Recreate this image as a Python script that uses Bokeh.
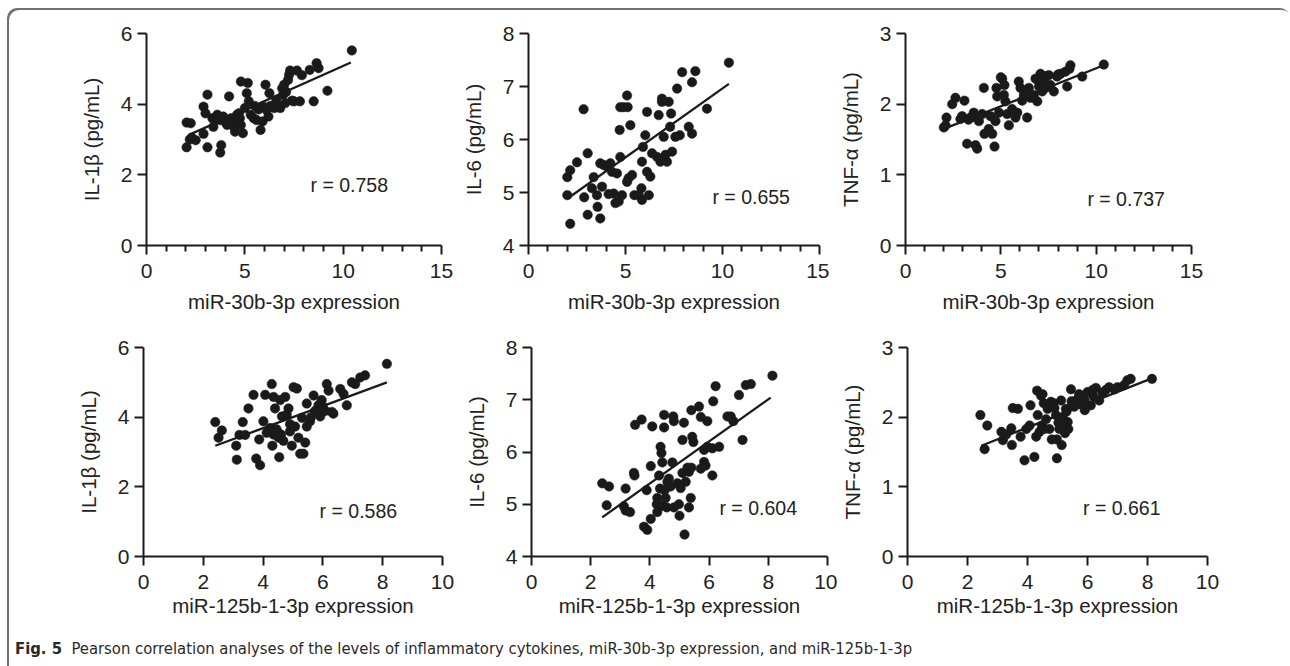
from bokeh.plotting import figure
from bokeh.models import Label, Div, FixedTicker, Range1d
from bokeh.layouts import row, column
from bokeh.embed import file_html
from bokeh.resources import INLINE

# ---------------- data ----------------
# Row 1: miR-30b-3p expression vs cytokines
mir30_il1b_x = [2.04, 2.04, 2.25, 2.2, 2.5, 2.9, 3.1, 2.9, 3.1, 3.0, 3.35, 3.4, 3.6, 3.75, 3.8,
                3.75, 4.1, 4.2, 4.3, 4.45, 4.5, 4.6, 4.7, 4.8, 4.8, 4.9, 5.0, 5.1, 5.15, 5.2,
                5.3, 5.45, 5.6, 5.8, 5.9, 5.95, 6.05, 6.1, 6.2, 6.25, 6.4, 6.5, 6.6, 6.8, 6.9,
                6.95, 7.05, 7.2, 7.25, 7.3, 7.5, 7.65, 7.8, 7.9, 8.3, 8.5, 8.65, 8.75, 9.2, 10.44,
                3.5, 3.9, 4.0, 4.4, 4.6, 4.75, 5.5, 5.7, 6.3, 6.7, 7.1, 7.4, 7.0, 2.3]
mir30_il1b_y = [2.78, 3.48, 3.46, 3.0, 2.98, 3.16, 2.78, 3.93, 4.27, 3.74, 3.6, 3.36, 3.7, 3.55, 2.84,
                2.63, 3.41, 4.22, 3.6, 3.36, 3.22, 3.55, 3.74, 3.41, 4.64, 3.18, 3.89, 4.31, 4.6, 4.08,
                3.7, 3.6, 3.55, 3.27, 3.51, 3.93, 4.55, 3.84, 3.65, 4.31, 3.93, 3.89, 4.12, 3.89, 4.45,
                4.27, 4.03, 4.69, 4.83, 4.95, 4.08, 4.95, 4.08, 4.82, 4.97, 4.08, 5.16, 5.02, 4.38, 5.52,
                3.55, 3.65, 3.5, 3.45, 3.7, 3.6, 3.95, 3.85, 3.95, 3.95, 4.35, 4.1, 4.55, 3.05]
mir30_il1b_fit_x = [2.16, 10.39]
mir30_il1b_fit_y = [3.13, 5.18]

mir30_il6_x = [2.15, 2.0, 2.0, 2.15, 2.5, 2.84, 2.87, 3.05, 3.05, 3.27, 3.36, 3.53, 3.56, 3.7, 3.7,
               3.79, 3.87, 4.04, 4.13, 4.22, 4.3, 4.39, 4.48, 4.56, 4.65, 4.7, 4.73, 4.73, 4.82, 4.9,
               5.08, 5.11, 5.08, 5.16, 5.25, 5.34, 5.46, 5.68, 5.82, 5.85, 5.9, 5.85, 6.02, 6.11, 6.11,
               6.2, 6.28, 6.37, 6.63, 6.71, 6.8, 6.88, 6.88, 6.97, 7.06, 7.14, 7.23, 7.3, 7.35, 7.4,
               7.57, 7.66, 7.8, 7.92, 8.26, 8.43, 8.43, 8.6, 9.2, 10.33]
mir30_il6_y = [4.41, 4.95, 5.29, 5.42, 5.57, 6.57, 4.91, 5.74, 4.58, 5.08, 5.29, 4.95, 4.73, 4.51, 5.55,
               5.11, 5.52, 5.49, 4.97, 5.55, 5.39, 4.98, 4.8, 5.36, 4.83, 6.18, 6.61, 5.67, 4.95, 6.61,
               6.83, 6.61, 5.2, 5.27, 6.27, 5.33, 4.95, 4.95, 5.08, 4.86, 5.86, 5.58, 6.08, 6.52, 5.39,
               4.95, 5.3, 5.74, 5.67, 6.46, 5.58, 6.77, 6.71, 6.05, 5.71, 5.58, 6.71, 6.24, 6.49, 5.77,
               6.05, 6.96, 6.08, 7.27, 6.24, 6.11, 7.08, 7.29, 6.58, 7.45]
mir30_il6_fit_x = [2.07, 10.33]
mir30_il6_fit_y = [4.9, 7.05]

mir30_tnf_x = [2.01, 2.15, 2.45, 2.62, 2.88, 2.97, 3.09, 3.23, 3.41, 3.58, 3.67, 3.76, 3.85, 4.02, 4.11,
               4.14, 4.37, 4.46, 4.55, 4.67, 4.72, 4.77, 4.81, 4.9, 5.07, 5.16, 5.19, 5.24, 5.33, 5.42,
               5.59, 5.77, 5.86, 5.94, 6.03, 6.12, 6.21, 6.38, 6.47, 6.56, 6.73, 6.82, 6.91, 7.0, 7.08,
               7.17, 7.25, 7.34, 7.52, 7.6, 7.78, 7.95, 8.13, 8.39, 8.48, 8.65, 9.27, 10.4,
               2.1, 3.3, 3.5, 5.0, 6.9, 7.4, 8.0, 8.6, 7.1, 6.3]
mir30_tnf_y = [1.67, 1.81, 2.0, 2.09, 1.79, 1.83, 2.05, 1.44, 1.81, 1.88, 1.42, 1.37, 1.76, 1.86, 2.23,
               1.58, 1.65, 1.83, 1.58, 1.4, 1.76, 2.23, 2.11, 1.88, 2.36, 2.13, 2.27, 2.04, 1.86, 1.7,
               1.93, 1.81, 1.88, 2.32, 2.23, 2.05, 2.13, 1.81, 2.23, 2.09, 2.13, 2.36, 2.04, 2.25, 2.43,
               2.18, 2.34, 2.23, 2.41, 2.27, 2.18, 2.39, 2.43, 2.46, 2.25, 2.55, 2.39, 2.56,
               1.7, 1.78, 1.82, 2.38, 2.35, 2.4, 2.42, 2.5, 2.3, 2.18]
mir30_tnf_fit_x = [2.01, 10.4]
mir30_tnf_fit_y = [1.65, 2.55]

# Row 2: miR-125b-1-3p expression vs cytokines
mir125_il1b_x = [2.4, 2.51, 2.62, 3.1, 3.12, 3.21, 3.32, 3.4, 3.51, 3.68, 3.77, 3.9, 3.87, 4.01, 4.07,
                 4.12, 4.24, 4.29, 4.31, 4.35, 4.4, 4.46, 4.52, 4.54, 4.57, 4.63, 4.68, 4.74, 4.79, 4.85,
                 4.9, 4.96, 5.02, 5.07, 5.13, 5.18, 5.24, 5.3, 5.35, 5.41, 5.46, 5.46, 5.57, 5.69, 5.74,
                 5.85, 5.91, 5.96, 6.08, 6.13, 6.19, 6.35, 6.58, 6.69, 6.8, 6.97, 7.08, 7.25, 7.41, 8.14,
                 4.35, 4.6, 4.45, 5.8, 6.0, 5.6, 6.3, 4.2, 4.9]
mir125_il1b_y = [3.86, 3.41, 3.62, 3.18, 2.78, 3.49, 3.86, 3.49, 4.25, 4.64, 2.81, 2.62, 3.36, 3.88, 4.64,
                 3.55, 3.69, 4.95, 3.18, 4.58, 4.25, 3.59, 3.41, 2.85, 4.49, 4.02, 3.32, 4.58, 4.07, 4.25,
                 3.59, 3.18, 4.86, 3.73, 4.82, 3.41, 2.95, 3.98, 2.95, 3.27, 3.73, 4.39, 3.88, 4.62, 4.18,
                 4.34, 4.02, 4.49, 4.18, 4.95, 4.76, 4.1, 4.81, 4.67, 4.34, 5.0, 4.95, 5.14, 5.2, 5.53,
                 3.5, 3.5, 3.65, 4.2, 4.3, 4.0, 4.15, 3.6, 3.8]
mir125_il1b_fit_x = [2.4, 8.14]
mir125_il1b_fit_y = [3.18, 5.0]

mir125_il6_x = [2.39, 2.62, 2.54, 3.18, 3.12, 3.18, 3.33, 3.46, 3.48, 3.5, 3.72, 3.8, 3.91, 3.89, 4.03,
                4.03, 4.08, 4.23, 4.25, 4.25, 4.31, 4.34, 4.36, 4.39, 4.42, 4.42, 4.48, 4.48, 4.5, 4.53,
                4.57, 4.59, 4.64, 4.7, 4.76, 4.79, 4.81, 4.81, 4.93, 4.98, 5.0, 5.04, 5.1, 5.1, 5.15,
                5.17, 5.21, 5.27, 5.32, 5.32, 5.38, 5.4, 5.43, 5.47, 5.4, 5.66, 5.72, 5.72, 5.83, 5.83,
                5.88, 5.94, 5.94, 6.11, 6.11, 6.14, 6.22, 6.34, 6.62, 6.73, 6.82, 7.13, 7.01, 7.24, 7.41, 8.14]
mir125_il6_y = [5.4, 5.34, 4.98, 5.3, 4.96, 4.88, 4.85, 5.6, 5.55, 6.52, 6.62, 4.57, 4.51, 5.27, 4.72,
                5.73, 6.49, 5.0, 4.85, 5.12, 5.55, 5.3, 6.1, 5.98, 5.8, 4.97, 6.71, 6.47, 5.27, 5.12,
                4.94, 5.43, 5.49, 5.34, 5.8, 6.68, 6.59, 4.94, 5.4, 5.0, 4.78, 5.31, 5.6, 6.23, 6.56,
                4.42, 5.43, 5.7, 5.62, 4.94, 5.12, 5.7, 6.29, 6.19, 6.8, 6.87, 6.67, 5.68, 6.04, 5.81,
                5.74, 6.59, 6.1, 5.55, 6.07, 6.97, 7.26, 6.1, 6.68, 6.68, 6.59, 6.23, 7.09, 7.28, 7.3, 7.46]
mir125_il6_fit_x = [2.39, 8.08]
mir125_il6_fit_y = [4.75, 7.04]

mir125_tnf_x = [2.43, 2.57, 2.66, 3.13, 3.18, 3.29, 3.46, 3.48, 3.51, 3.68, 3.77, 3.9, 3.96, 4.07, 4.1,
                4.23, 4.29, 4.32, 4.34, 4.4, 4.45, 4.48, 4.5, 4.54, 4.56, 4.62, 4.67, 4.73, 4.78, 4.81,
                4.87, 4.9, 4.95, 4.98, 4.98, 5.03, 5.06, 5.12, 5.14, 5.17, 5.2, 5.25, 5.28, 5.34, 5.36,
                5.45, 5.47, 5.56, 5.67, 5.72, 5.8, 5.91, 6.0, 6.11, 6.17, 6.28, 6.39, 6.61, 6.72, 7.0,
                7.22, 7.33, 7.44, 8.15, 5.9, 6.2, 6.5, 6.9, 5.5, 5.3]
mir125_tnf_y = [2.03, 1.54, 1.88, 1.79, 1.67, 1.75, 1.84, 1.6, 2.13, 2.12, 1.72, 1.38, 1.83, 1.88, 2.17,
                1.43, 1.72, 2.38, 2.03, 1.79, 2.31, 1.88, 2.33, 2.2, 1.83, 1.97, 2.12, 1.83, 2.22, 1.68,
                2.2, 2.13, 2.03, 1.68, 1.41, 1.92, 1.83, 2.24, 1.6, 2.0, 1.89, 1.77, 2.12, 1.93, 1.83,
                2.4, 2.23, 2.15, 2.26, 2.33, 2.18, 2.1, 2.36, 2.17, 2.39, 2.42, 2.24, 2.39, 2.43, 2.43,
                2.46, 2.53, 2.55, 2.55, 2.25, 2.3, 2.35, 2.4, 2.2, 2.08]
mir125_tnf_fit_x = [2.46, 8.1]
mir125_tnf_fit_y = [1.59, 2.55]

# axis labels / ticks / annotations
x_label_row1 = "miR-30b-3p expression"
x_label_row2 = "miR-125b-1-3p expression"
y_labels = ["IL-1\u03b2 (pg/mL)", "IL-6 (pg/mL)", "TNF-\u03b1 (pg/mL)"]
x_ticks_row1 = [0, 5, 10, 15]
x_minor_row1 = [1, 2, 3, 4, 6, 7, 8, 9, 11, 12, 13, 14]
x_ticks_row2 = [0, 2, 4, 6, 8, 10]
y_ticks = [[0, 2, 4, 6], [4, 5, 6, 7, 8], [0, 1, 2, 3]]
r_texts_row1 = ["r = 0.758", "r = 0.655", "r = 0.737"]
r_texts_row2 = ["r = 0.586", "r = 0.604", "r = 0.661"]
caption = "Pearson correlation analyses of the levels of inflammatory cytokines, miR-30b-3p expression, and miR-125b-1-3p"

FONT = "Liberation Sans"
INK = "#1a1a1a"
TXT = "#222222"


def panel(xs, ys, fx, fy, xr, yr, xt, xminor, yt, xlab, ylab, rtext, rpos,
          width, height, bl, br, bt, bb, xlab_standoff):
    p = figure(width=width, height=height, x_range=Range1d(*xr), y_range=Range1d(*yr),
               output_backend="svg", toolbar_location=None,
               min_border_left=bl, min_border_right=br, min_border_top=bt, min_border_bottom=bb)
    p.outline_line_color = None
    p.grid.visible = False
    p.background_fill_color = None
    p.border_fill_color = None

    p.xaxis.ticker = FixedTicker(ticks=xt, minor_ticks=xminor)
    p.yaxis.ticker = FixedTicker(ticks=yt, minor_ticks=[])
    for ax in (p.xaxis[0], p.yaxis[0]):
        ax.axis_line_width = 2
        ax.axis_line_color = INK
        ax.major_tick_line_width = 2
        ax.major_tick_line_color = INK
        ax.major_tick_in = 0
        ax.major_tick_out = 9
        ax.minor_tick_line_width = 2
        ax.minor_tick_line_color = INK
        ax.minor_tick_in = 0
        ax.minor_tick_out = 6
        ax.major_label_text_font = FONT
        ax.major_label_text_font_size = "21px"
        ax.major_label_text_color = TXT
        ax.axis_label_text_font = FONT
        ax.axis_label_text_font_size = "20.5px"
        ax.axis_label_text_font_style = "normal"
        ax.axis_label_text_color = TXT
    p.xaxis.axis_label = xlab
    p.yaxis.axis_label = ylab
    p.xaxis.major_label_standoff = 9
    p.xaxis.axis_label_standoff = xlab_standoff
    p.yaxis.major_label_standoff = 5
    p.yaxis.axis_label_standoff = 15

    p.line(fx, fy, line_color=INK, line_width=2.3)
    p.scatter(xs, ys, size=9.5, fill_color=INK, line_color=INK, line_width=0.5)
    p.add_layout(Label(x=rpos[0], y=rpos[1], text=rtext, text_font=FONT, text_font_size="19.5px",
                       text_color=TXT, text_baseline="middle", text_align="left"))
    return p


# The layout is offset by (7, 8) from the page corner; frames placed to match the reference.
f1 = panel(mir30_il1b_x, mir30_il1b_y, mir30_il1b_fit_x, mir30_il1b_fit_y, (0, 15), (0, 6),
           x_ticks_row1, x_minor_row1, y_ticks[0], x_label_row1, y_labels[0], r_texts_row1[0], (8.34, 1.7),
           width=450, height=320, bl=139, br=16, bt=25, bb=83, xlab_standoff=9)
f2 = panel(mir30_il6_x, mir30_il6_y, mir30_il6_fit_x, mir30_il6_fit_y, (0, 15), (4, 8),
           x_ticks_row1, x_minor_row1, y_ticks[1], x_label_row1, y_labels[1], r_texts_row1[1], (9.48, 4.92),
           width=372, height=320, bl=71, br=10, bt=25, bb=82, xlab_standoff=9)
f3 = panel(mir30_tnf_x, mir30_tnf_y, mir30_tnf_fit_x, mir30_tnf_fit_y, (0, 15), (0, 3),
           x_ticks_row1, x_minor_row1, y_ticks[2], x_label_row1, y_labels[2], r_texts_row1[2], (9.54, 0.66),
           width=461, height=320, bl=76, br=99, bt=23, bb=80, xlab_standoff=9)

f4 = panel(mir125_il1b_x, mir125_il1b_y, mir125_il1b_fit_x, mir125_il1b_fit_y, (0, 10), (0, 6),
           x_ticks_row2, [], y_ticks[0], x_label_row2, y_labels[0], r_texts_row2[0], (5.89, 1.31),
           width=450, height=302, bl=136, br=15, bt=16, bb=71, xlab_standoff=2)
f5 = panel(mir125_il6_x, mir125_il6_y, mir125_il6_fit_x, mir125_il6_fit_y, (0, 10), (4, 8),
           x_ticks_row2, [], y_ticks[1], x_label_row2, y_labels[1], r_texts_row2[1], (6.35, 4.92),
           width=380, height=302, bl=74, br=10, bt=12, bb=72, xlab_standoff=2)
f6 = panel(mir125_tnf_x, mir125_tnf_y, mir125_tnf_fit_x, mir125_tnf_fit_y, (0, 10), (0, 3),
           x_ticks_row2, [], y_ticks[2], x_label_row2, y_labels[2], r_texts_row2[2], (5.85, 0.69),
           width=453, height=302, bl=69, br=83, bt=19, bb=74, xlab_standoff=2)

cap = Div(text="<b>Fig.&nbsp;5</b>&nbsp;&nbsp;" + caption, width=1270, height=28,
          styles={"font-family": "'Liberation Sans Narrow', 'DejaVu Sans Condensed', 'Open Sans', sans-serif",
                  "font-stretch": "condensed", "font-size": "16.5px", "line-height": "28px",
                  "color": "#2a2a2a", "padding-left": "3px", "white-space": "nowrap"})

layout = column(row(f1, f2, f3), row(f4, f5, f6), cap, margin=(8, 0, 0, 7),
                styles={"box-shadow": "inset 2px 2px 0 0 #707070", "border-top-left-radius": "10px",
                        "border-top-right-radius": "10px"})

open("out.html", "w").write(file_html(layout, INLINE))
